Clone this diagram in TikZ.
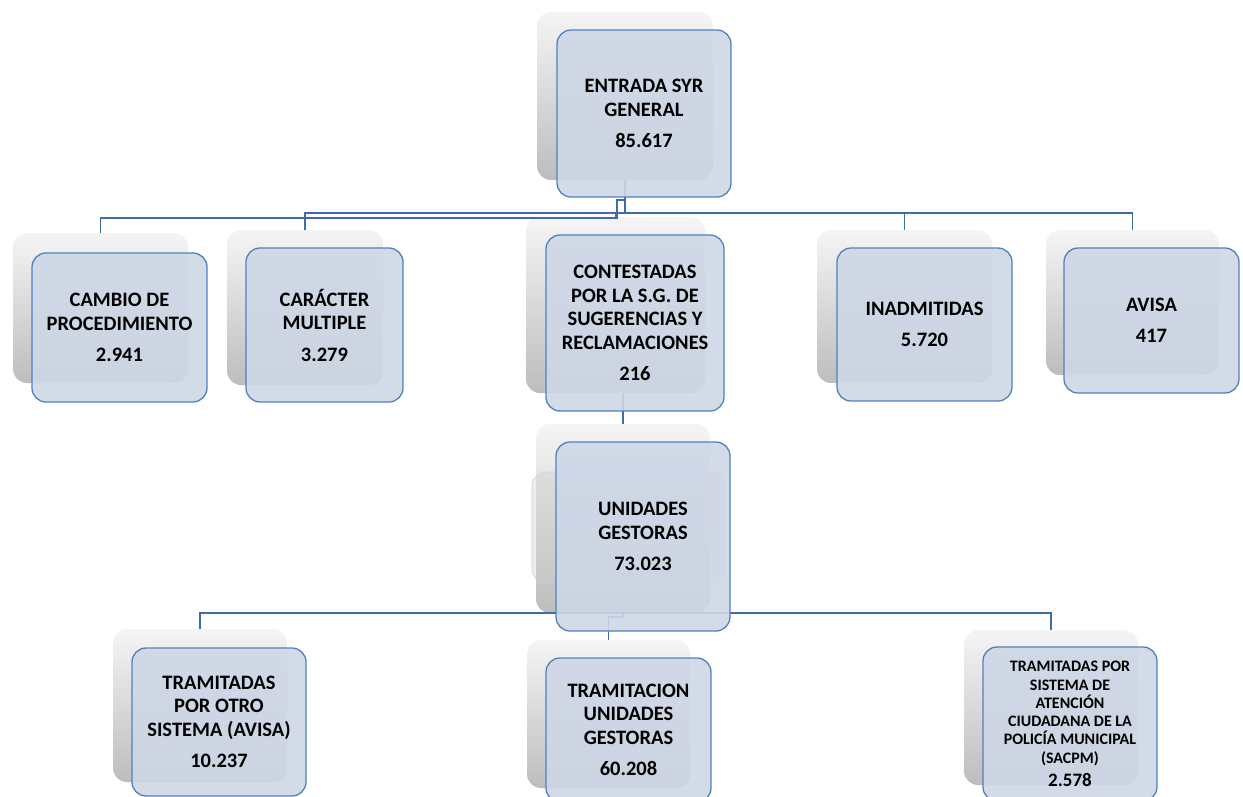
\documentclass[tikz,border=0pt]{standalone}
\usepackage{fontspec}
\setmainfont{Carlito}
\definecolor{smline}{RGB}{79,129,189}
\definecolor{smfill}{RGB}{206,214,230}
\definecolor{smwire}{RGB}{66,108,166}

\begin{document}
\begin{tikzpicture}[x=1pt,y=-1pt,
  back/.style={rounded corners=14pt,top color=white!96!black,bottom color=white!74!black,inner sep=0pt},
  front/.style={rounded corners=14pt,draw=smline,line width=1.3pt,fill=smfill,fill opacity=0.9,text opacity=1,inner sep=0pt,align=center,font=\bfseries\fontsize{20.5}{23.5}\selectfont},
  wire/.style={draw=smwire,line width=1.7pt}]
\useasboundingbox (0,0) rectangle (1243,796);
\clip (0,0) rectangle (1243,796);

\node[back,minimum width=176pt,minimum height=168pt] (entrada-s) at (625,96) {};
\node[back,minimum width=175pt,minimum height=150pt] (cambio-s) at (100.5,308) {};
\node[back,minimum width=156pt,minimum height=155pt] (caracter-s) at (305,307.5) {};
\node[back,minimum width=179pt,minimum height=176pt] (contestadas-s) at (615.5,305) {};
\node[back,minimum width=175pt,minimum height=153pt] (inadmitidas-s) at (904.5,306.5) {};
\node[back,minimum width=173pt,minimum height=145pt] (avisa-s) at (1132.5,302.5) {};
\node[back,minimum width=174pt,minimum height=189pt] (unidades-s) at (623,518.5) {};
\node[back,minimum width=174pt,minimum height=153pt] (otro-s) at (200,705.5) {};
\node[back,minimum width=163pt,minimum height=148pt] (tramitacion-s) at (608.5,714) {};
\node[back,minimum width=174pt,minimum height=155pt] (sacpm-s) at (1051,707.5) {};

\draw[wire] (entrada-s.south) -- ++(0,20) -- ++(-8,0) -- ++(0,18) -| (cambio-s.north);
\draw[wire] (entrada-s.south) -- ++(0,33) -| (caracter-s.north);
\draw[wire] (entrada-s.south) -- ++(0,33) -| (contestadas-s.north);
\draw[wire] (entrada-s.south) -- ++(0,33) -| (inadmitidas-s.north);
\draw[wire] (entrada-s.south) -- ++(0,33) -| (avisa-s.north);
\draw[wire] (contestadas-s.south -| unidades-s.north) -- (unidades-s.north);
\draw[wire] (unidades-s.south) -| (otro-s.north);
\draw[wire] (unidades-s.south) -- ++(0,4) -| (tramitacion-s.north);
\draw[wire] (unidades-s.south) -| (sacpm-s.north);

\node[rounded corners=14pt,fill=white!80!black,fill opacity=0.35,draw=smline!35,line width=0.6pt,minimum width=193pt,minimum height=111pt,inner sep=0pt] (unidades-m) at (628.5,527.5) {};

\node[front,minimum width=174pt,minimum height=167pt] (entrada) at (644,113.5) {ENTRADA SYR\\GENERAL\\[8pt]85.617};
\node[front,minimum width=175pt,minimum height=149pt] (cambio) at (119.5,327.5) {CAMBIO DE\\PROCEDIMIENTO\\[8pt]2.941};
\node[front,minimum width=157pt,minimum height=154pt] (caracter) at (324.5,325) {CARÁCTER\\MULTIPLE\\[8pt]3.279};
\node[front,minimum width=178pt,minimum height=176pt] (contestadas) at (635,323) {CONTESTADAS\\POR LA S.G. DE\\SUGERENCIAS Y\\RECLAMACIONES\\[8pt]216};
\node[front,minimum width=175pt,minimum height=153pt] (inadmitidas) at (924.5,324.5) {INADMITIDAS\\[8pt]5.720};
\node[front,minimum width=175pt,minimum height=145pt] (avisa) at (1151.5,320.5) {AVISA\\[8pt]417};
\node[front,minimum width=174pt,minimum height=189pt] (unidades) at (643,536.5) {UNIDADES\\GESTORAS\\[8pt]73.023};
\node[front,minimum width=174pt,minimum height=148pt] (otro) at (219,722) {TRAMITADAS\\POR OTRO\\SISTEMA (AVISA)\\[8pt]10.237};
\node[front,minimum width=165pt,minimum height=144pt] (tramitacion) at (628.5,730) {TRAMITACION\\UNIDADES\\GESTORAS\\[8pt]60.208};
\node[front,minimum width=174pt,minimum height=154pt,font=\bfseries\fontsize{16}{18.3}\selectfont] (sacpm) at (1070,724) {TRAMITADAS POR\\SISTEMA DE\\ATENCIÓN\\CIUDADANA DE LA\\POLICÍA MUNICIPAL\\(SACPM)\\[5pt]{\fontsize{19}{20}\selectfont 2.578}};
\end{tikzpicture}
\end{document}
